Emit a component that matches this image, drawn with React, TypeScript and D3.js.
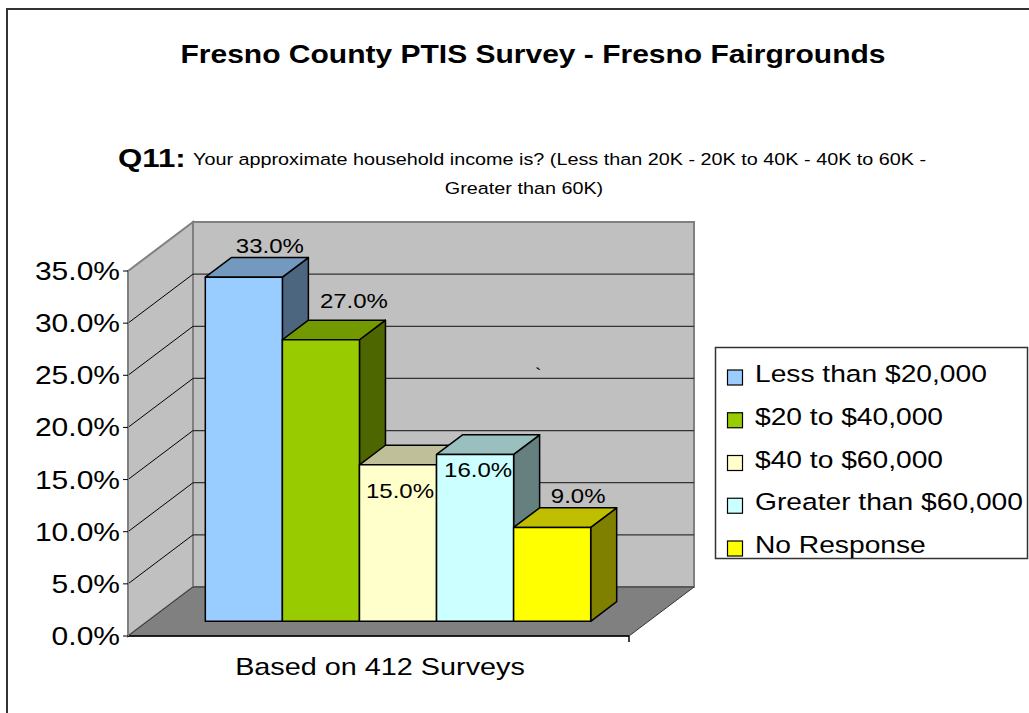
import * as d3 from "d3";

const TITLE = "Fresno County PTIS Survey - Fresno Fairgrounds";
const QUESTION_ID = "Q11:";
const QUESTION_LINE1 = "Your approximate household income is? (Less than 20K - 20K to 40K - 40K to 60K  -";
const QUESTION_LINE2 = "Greater than 60K)";
const CATEGORY = "Based on 412 Surveys";

const seriesNames = ["Less than $20,000", "$20 to $40,000", "$40 to $60,000", "Greater than $60,000", "No Response"];
const seriesValues = [0.33, 0.27, 0.15, 0.16, 0.09];
const seriesColors = ["#99ccff", "#99cc00", "#ffffcc", "#ccffff", "#ffff00"];
const yTicks = [0, 0.05, 0.1, 0.15, 0.2, 0.25, 0.3, 0.35];

// layout of the fake 3d box
const W = 1029;
const H = 713;
const FLOOR_LEFT = 128;
const FLOOR_RIGHT = 629;
const FLOOR_Y = 636;
const TOP_Y = 271;
const DX = 65;
const DY = -49;
const BAR_FRONT = 0.3;
const BAR_BACK = 0.7;
const SX = 1.2; // the source image text is stretched sideways
const FONT = "'Liberation Sans', Arial, sans-serif";

// excel put a couple of labels in odd places
const LABEL_NUDGE = [[0, 0], [7, -7], [-24, 58], [-23, 47], [0, 0]];

function T({ x, y, size, anchor = "start", weight = "normal", children }: any) {
  return (
    <text
      transform={`translate(${x},${y}) scale(${SX},1)`}
      fontSize={size}
      textAnchor={anchor}
      fontWeight={weight}
      fontFamily={FONT}
      fill="#000"
    >
      {children}
    </text>
  );
}

const shade = (c: string, k: number) => {
  const r = d3.rgb(c);
  return d3.rgb(r.r * k, r.g * k, r.b * k).formatHex();
};

const pts = (p: number[][]) => p.map((d) => d.join(",")).join(" ");

export default function App() {
  const yScale = d3.scaleLinear().domain([0, 0.35]).range([FLOOR_Y, TOP_Y]);
  const xScale = d3
    .scaleBand()
    .domain(seriesNames)
    .range([FLOOR_LEFT, FLOOR_RIGHT])
    .paddingInner(0)
    .paddingOuter(0.75);
  const fmt = d3.format(".1%");
  const bw = xScale.bandwidth();

  const backLeft = FLOOR_LEFT + DX;
  const backRight = FLOOR_RIGHT + DX;

  const bars = seriesNames.map((name, i) => {
    const v = seriesValues[i];
    const x0 = xScale(name)!;
    const fx = x0 + DX * BAR_FRONT;
    const fy0 = yScale(0) + DY * BAR_FRONT;
    const fy1 = yScale(v) + DY * BAR_FRONT;
    const ddx = DX * (BAR_BACK - BAR_FRONT);
    const ddy = DY * (BAR_BACK - BAR_FRONT);
    const c = seriesColors[i];
    return (
      <g key={name} stroke="#000" strokeWidth={1.5} strokeLinejoin="round">
        <polygon
          points={pts([[fx + bw, fy1], [fx + bw + ddx, fy1 + ddy], [fx + bw + ddx, fy0 + ddy], [fx + bw, fy0]])}
          fill={shade(c, 0.5)}
        />
        <polygon
          points={pts([[fx, fy1], [fx + ddx, fy1 + ddy], [fx + bw + ddx, fy1 + ddy], [fx + bw, fy1]])}
          fill={shade(c, 0.75)}
        />
        <rect x={fx} y={fy1} width={bw} height={fy0 - fy1} fill={c} />
      </g>
    );
  });

  const labels = seriesNames.map((name, i) => {
    const v = seriesValues[i];
    const cx = xScale(name)! + bw / 2 + DX * BAR_BACK + LABEL_NUDGE[i][0];
    const by = yScale(v) + DY * BAR_BACK - 5 + LABEL_NUDGE[i][1];
    return (
      <T key={name} x={cx} y={by} size={20} anchor="middle">
        {fmt(v)}
      </T>
    );
  });

  return (
    <div style={{ position: "absolute", left: 0, top: 0 }}>
      <svg width={W} height={H} style={{ display: "block" }}>
        <rect x={0} y={0} width={W} height={H} fill="#fff" />
        <rect x={7} y={9} width={1200} height={900} fill="none" stroke="#333" strokeWidth={2} />

        <T x={533} y={63} size={25} anchor="middle" weight="bold">{TITLE}</T>
        <T x={118} y={167} size={26} weight="bold">{QUESTION_ID}</T>
        <T x={193} y={165} size={16.5}>{QUESTION_LINE1}</T>
        <T x={524} y={194} size={16.5} anchor="middle">{QUESTION_LINE2}</T>

        {/* back wall */}
        <rect
          x={backLeft}
          y={yScale(0.35) + DY}
          width={backRight - backLeft}
          height={yScale(0) - yScale(0.35)}
          fill="#c0c0c0"
          stroke="#808080"
          strokeWidth={2}
        />
        {/* side wall */}
        <polygon
          points={pts([[FLOOR_LEFT, yScale(0.35)], [backLeft, yScale(0.35) + DY], [backLeft, yScale(0) + DY], [FLOOR_LEFT, yScale(0)]])}
          fill="#c0c0c0"
          stroke="#808080"
          strokeWidth={2}
        />
        {/* floor */}
        <polygon
          points={pts([[FLOOR_LEFT, yScale(0)], [FLOOR_RIGHT, yScale(0)], [backRight, yScale(0) + DY], [backLeft, yScale(0) + DY]])}
          fill="#808080"
          stroke="#333"
          strokeWidth={1}
        />
        {/* gridlines */}
        {yTicks.slice(1, -1).map((t) => (
          <g key={t}>
            <line x1={backLeft} x2={backRight} y1={yScale(t) + DY} y2={yScale(t) + DY} stroke="#333" strokeWidth={1.2} />
            <line x1={FLOOR_LEFT} x2={backLeft} y1={yScale(t)} y2={yScale(t) + DY} stroke="#000" strokeWidth={1} />
          </g>
        ))}
        <line x1={FLOOR_LEFT} x2={FLOOR_RIGHT} y1={yScale(0)} y2={yScale(0)} stroke="#000" strokeWidth={1.5} />
        <line x1={FLOOR_RIGHT} x2={FLOOR_RIGHT} y1={yScale(0)} y2={yScale(0) + 6} stroke="#000" strokeWidth={1.5} />
        <line x1={FLOOR_LEFT} x2={FLOOR_LEFT} y1={yScale(0.35)} y2={yScale(0)} stroke="#808080" strokeWidth={2} />

        {/* y axis */}
        {yTicks.map((t) => (
          <g key={t}>
            <line x1={FLOOR_LEFT - 5} x2={FLOOR_LEFT} y1={yScale(t)} y2={yScale(t)} stroke="#000" strokeWidth={1} />
            <T x={120} y={yScale(t) + 9} size={25} anchor="end">
              {fmt(t)}
            </T>
          </g>
        ))}

        {bars}
        {labels}

        <T x={535} y={380} size={16}>`</T>

        <T x={380} y={675} size={24} anchor="middle">{CATEGORY}</T>

        {/* legend */}
        <rect x={715.5} y={347.5} width={312} height={211} fill="#fff" stroke="#333" strokeWidth={1.5} />
        {seriesNames.map((name, i) => {
          const by = 382 + i * 42.75;
          return (
            <g key={name}>
              <rect x={727.5} y={by - 12} width={15} height={15} fill={seriesColors[i]} stroke="#000" strokeWidth={1.2} />
              <T x={755} y={by} size={23.5}>{name}</T>
            </g>
          );
        })}
      </svg>
    </div>
  );
}
